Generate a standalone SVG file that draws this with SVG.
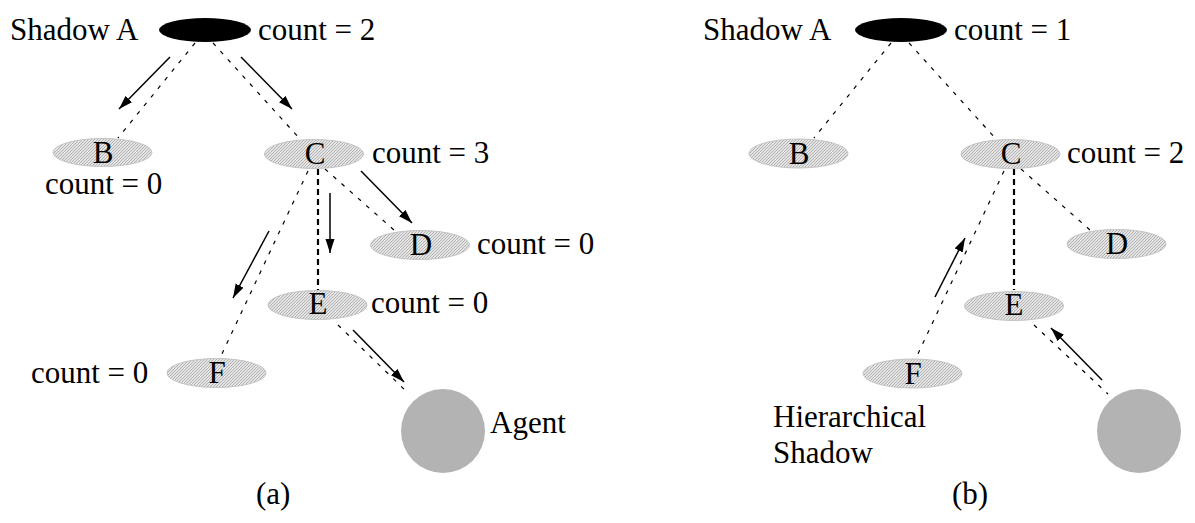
<svg xmlns="http://www.w3.org/2000/svg" width="1195" height="523" viewBox="0 0 1195 523">
<defs>
<pattern id="hatch" patternUnits="userSpaceOnUse" width="3" height="3">
<rect width="3" height="3" fill="#e4e4e4"/>
<path d="M-1,1 L1,-1 M0,3 L3,0 M2,4 L4,2" stroke="#a6a6a6" stroke-width="0.8"/>
</pattern>
<marker id="ah" markerUnits="userSpaceOnUse" markerWidth="15" markerHeight="10" refX="14" refY="4.5" orient="auto">
<path d="M0,0 L14,4.5 L0,9 z" fill="#000"/>
</marker>
</defs>
<style>
text{font-family:"Liberation Serif","Times New Roman",serif;font-size:31px;fill:#000}
.lbl{text-anchor:middle}
.node{fill:url(#hatch);stroke:#c4c4c4;stroke-width:1}
.root{fill:#000}
.agent{fill:#b3b3b3}
.dash{stroke:#000;stroke-width:1.2;stroke-dasharray:4 7;fill:none}
.vdash{stroke:#000;stroke-width:2.2;stroke-dasharray:6 4;fill:none}
.arr{stroke:#000;stroke-width:1.5;fill:none;marker-end:url(#ah)}
</style>
<rect width="1195" height="523" fill="#fff"/>

<g id="connectors">
<!-- panel a -->
<line class="dash" x1="195" y1="43" x2="118" y2="138"/>
<line class="dash" x1="213" y1="43" x2="300" y2="139"/>
<line class="dash" x1="325" y1="169" x2="394" y2="230"/>
<line class="vdash" x1="318" y1="169" x2="318" y2="290"/>
<line class="dash" x1="308" y1="171" x2="220" y2="358"/>
<line class="dash" x1="338" y1="325" x2="408" y2="393"/>
<line class="arr" x1="170" y1="57" x2="119" y2="109"/>
<line class="arr" x1="241" y1="57" x2="292" y2="109"/>
<line class="arr" x1="361" y1="171" x2="412" y2="223"/>
<line class="arr" x1="330" y1="193" x2="330" y2="253"/>
<line class="arr" x1="269" y1="231" x2="233" y2="298"/>
<line class="arr" x1="353" y1="330" x2="404" y2="382"/>
<!-- panel b -->
<line class="dash" x1="891" y1="43" x2="814" y2="138"/>
<line class="dash" x1="909" y1="43" x2="996" y2="139"/>
<line class="dash" x1="1021" y1="169" x2="1090" y2="230"/>
<line class="vdash" x1="1014" y1="169" x2="1014" y2="290"/>
<line class="dash" x1="1004" y1="171" x2="916" y2="358"/>
<line class="dash" x1="1034" y1="325" x2="1108" y2="394"/>
<line class="arr" x1="935" y1="297" x2="965" y2="238"/>
<line class="arr" x1="1102" y1="380" x2="1051" y2="328"/>
</g>

<!-- panel a nodes -->
<g id="a-A">
<ellipse class="root" cx="205" cy="30" rx="46" ry="12"/>
<text x="10" y="40">Shadow A</text>
<text x="258" y="40">count = 2</text>
</g>
<g id="a-B">
<ellipse class="node" cx="102.5" cy="152.5" rx="49.5" ry="14"/>
<text class="lbl" x="103" y="163">B</text>
<text x="45" y="194">count = 0</text>
</g>
<g id="a-C">
<ellipse class="node" cx="314" cy="154" rx="49.5" ry="14.5"/>
<text class="lbl" x="315" y="164">C</text>
<text x="372" y="163">count = 3</text>
</g>
<g id="a-D">
<ellipse class="node" cx="420" cy="245" rx="49.5" ry="14.5"/>
<text class="lbl" x="421" y="255">D</text>
<text x="477" y="254">count = 0</text>
</g>
<g id="a-E">
<ellipse class="node" cx="317.5" cy="305" rx="49.5" ry="14.5"/>
<text class="lbl" x="318" y="314">E</text>
<text x="371" y="313">count = 0</text>
</g>
<g id="a-F">
<ellipse class="node" cx="216.5" cy="373" rx="49.5" ry="14.5"/>
<text class="lbl" x="217" y="383">F</text>
<text x="31" y="383">count = 0</text>
</g>
<g id="a-Agent">
<circle class="agent" cx="443" cy="431" r="42"/>
<text x="490" y="433">Agent</text>
</g>
<text x="256" y="504">(a)</text>

<!-- panel b nodes -->
<g id="b-A">
<ellipse class="root" cx="901" cy="30" rx="46" ry="12"/>
<text x="703" y="40">Shadow A</text>
<text x="954" y="40">count = 1</text>
</g>
<g id="b-B">
<ellipse class="node" cx="798.5" cy="153.5" rx="49.5" ry="14.5"/>
<text class="lbl" x="799" y="164">B</text>
</g>
<g id="b-C">
<ellipse class="node" cx="1010.5" cy="154" rx="49.5" ry="14.5"/>
<text class="lbl" x="1011" y="164">C</text>
<text x="1067" y="163">count = 2</text>
</g>
<g id="b-D">
<ellipse class="node" cx="1116.5" cy="244" rx="49.5" ry="14.5"/>
<text class="lbl" x="1117" y="254">D</text>
</g>
<g id="b-E">
<ellipse class="node" cx="1014" cy="306" rx="49.5" ry="14.5"/>
<text class="lbl" x="1014" y="315">E</text>
</g>
<g id="b-F">
<ellipse class="node" cx="912.5" cy="373.5" rx="49.5" ry="14.5"/>
<text class="lbl" x="913" y="384">F</text>
<text x="773" y="427">Hierarchical</text>
<text x="773" y="463">Shadow</text>
</g>
<g id="b-Agent">
<circle class="agent" cx="1139" cy="431" r="42"/>
</g>
<text x="952" y="504">(b)</text>
</svg>
